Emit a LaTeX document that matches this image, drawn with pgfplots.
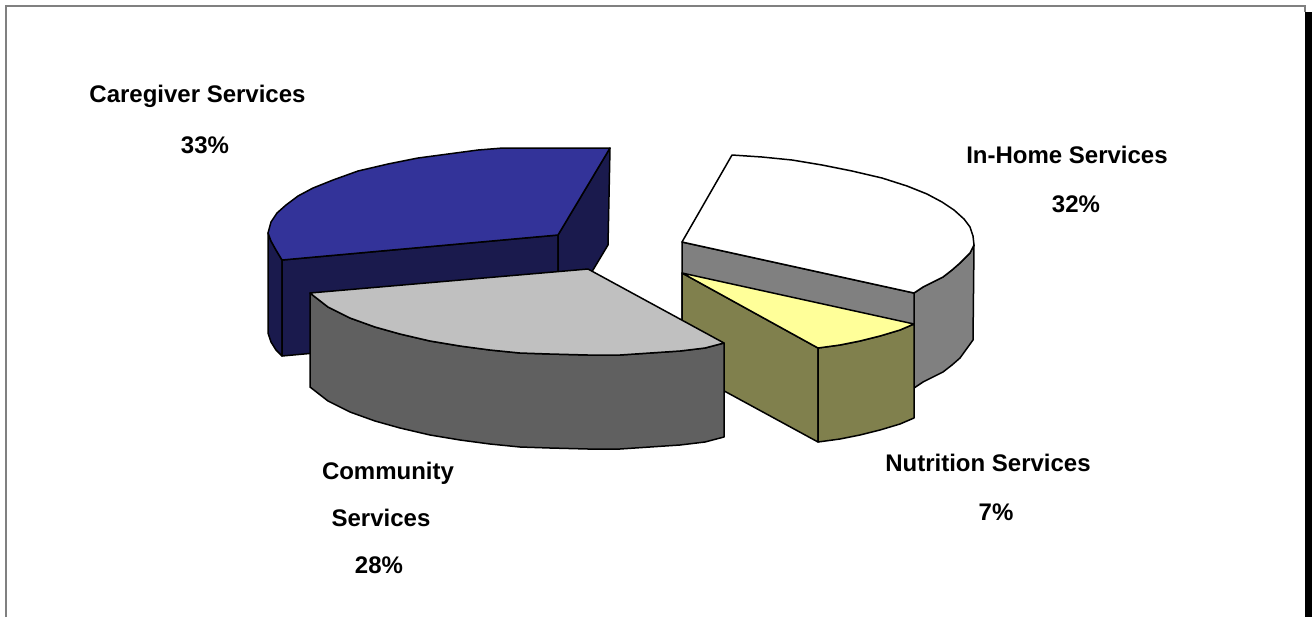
\documentclass[border=0pt]{standalone}
\usepackage{pgfplots}
\pgfplotsset{compat=1.18}
\usepackage{fontspec}
\setmainfont{Liberation Sans}
\definecolor{blueTop}{HTML}{333399}
\definecolor{blueSide}{HTML}{1A1A4D}
\definecolor{grayTop}{HTML}{C0C0C0}
\definecolor{graySide}{HTML}{606060}
\definecolor{homeSide}{HTML}{808080}
\definecolor{yellowTop}{HTML}{FFFF99}
\definecolor{oliveSide}{HTML}{80804D}
\tikzset{
    slice/.style={draw=black, line width=0.75pt, line join=round, fill=#1},
    lab/.style={font=\fontsize{12}{14}\selectfont\bfseries, anchor=center},
}
\begin{document}
\begin{tikzpicture}
\path[use as bounding box] (0,0) rectangle (656pt,308.5pt);
\begin{axis}[
    at={(0,0)}, anchor=south west,
    scale only axis, width=656pt, height=308.5pt,
    xmin=0, xmax=1312, ymin=0, ymax=617, y dir=reverse,
    hide axis, clip=false,
]
    % frame and its shadow
    \addplot[fill=black, draw=none] coordinates {(1305,12) (1312,12) (1312,617) (1305,617)} -- cycle;
    \addplot[color=homeSide, line width=0.9pt] coordinates {(6,617) (6,6) (1305,6) (1305,12)};

    % Caregiver Services
    \addplot[slice=blueSide] coordinates {(268,233) (268,333) (271,342) (276,350) (282,356) (282,260) (276,250) (271,241)} -- cycle;
    \addplot[slice=blueSide] coordinates {(282,260) (558,235) (558,331) (282,356)} -- cycle;
    \addplot[slice=blueSide] coordinates {(558,235) (610,148) (608,245) (593,270) (558,331)} -- cycle;
    \addplot[slice=blueTop] coordinates {(610,148) (503,148) (478,150) (448,154) (418,158) (388,164) (358,171) (333,180) (313,188) (298,196) (286,205) (277,213) (271,222) (268,233) (271,241) (276,250) (282,260) (558,235)} -- cycle;

    % In-Home Services
    \addplot[slice=homeSide] coordinates {(974,245) (973,340) (960,358) (952,365) (943,372) (933,377) (923,382) (914,388) (914,293) (923,287) (933,282) (943,277) (952,270) (960,263) (970,253)} -- cycle;
    \addplot[slice=homeSide] coordinates {(682,242) (914,293) (914,388) (682,337)} -- cycle;
    \addplot[slice=white] coordinates {(682,242) (732,155) (762,157) (792,160) (822,165) (852,171) (882,178) (907,186) (927,194) (942,202) (954,210) (964,219) (970,227) (973,236) (974,245) (970,253) (960,263) (952,270) (943,277) (933,282) (923,287) (914,293)} -- cycle;

    % Nutrition Services
    \addplot[slice=oliveSide] coordinates {(682,273) (818,348) (818,442) (682,368)} -- cycle;
    \addplot[slice=oliveSide] coordinates {(818,348) (840,345) (860,341) (880,336) (900,330) (914,324) (914,418) (900,424) (880,430) (860,435) (840,439) (818,442)} -- cycle;
    \addplot[slice=yellowTop] coordinates {(682,273) (914,324) (900,330) (880,336) (860,341) (840,345) (818,348)} -- cycle;

    % Community Services
    \addplot[slice=graySide] coordinates {(310,293) (328,307) (350,318) (375,327) (400,334) (430,341) (460,346) (490,350) (520,353) (550,354) (588,355) (620,355) (650,353) (680,351) (705,348) (724,343) (724,437) (705,442) (680,445) (650,447) (620,449) (588,449) (550,448) (520,447) (490,444) (460,440) (430,435) (400,428) (375,421) (350,412) (328,401) (310,387)} -- cycle;
    \addplot[slice=grayTop] coordinates {(310,293) (588,269) (724,343) (705,348) (680,351) (650,353) (620,355) (588,355) (550,354) (520,353) (490,350) (460,346) (430,341) (400,334) (375,327) (350,318) (328,307)} -- cycle;

    % labels
    \node[lab] at (axis cs:197.5,96) {Caregiver Services};
    \node[lab] at (axis cs:205,145) {33\%};
    \node[lab] at (axis cs:1067,155) {In-Home Services};
    \node[lab] at (axis cs:1076,204) {32\%};
    \node[lab] at (axis cs:988,463) {Nutrition Services};
    \node[lab] at (axis cs:996,512) {7\%};
    \node[lab] at (axis cs:388,473) {Community};
    \node[lab] at (axis cs:381,518) {Services};
    \node[lab] at (axis cs:379,565) {28\%};
\end{axis}
\end{tikzpicture}
\end{document}
